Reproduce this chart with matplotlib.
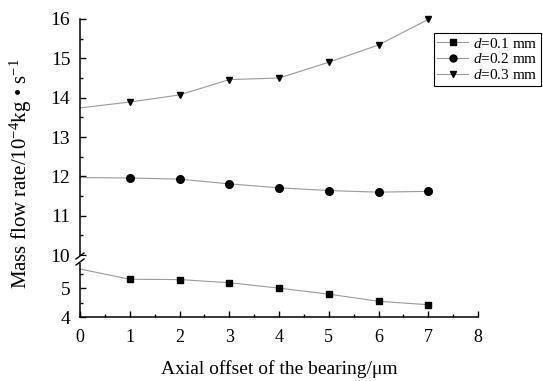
import matplotlib
matplotlib.use('Agg')
import matplotlib.pyplot as plt
from matplotlib.ticker import MultipleLocator
from matplotlib.lines import Line2D

plt.rcParams['font.family'] = ['Liberation Serif', 'DejaVu Serif']
plt.rcParams['mathtext.fontset'] = 'custom'
plt.rcParams['mathtext.rm'] = 'Liberation Serif'
plt.rcParams['mathtext.it'] = 'Liberation Serif:italic'

# ── data ──
offset = [0, 1, 2, 3, 4, 5, 6, 7]
flow_d01 = [5.68, 5.32, 5.31, 5.20, 5.01, 4.80, 4.55, 4.43]
flow_d02 = [11.97, 11.96, 11.93, 11.81, 11.71, 11.64, 11.60, 11.62]
flow_d03 = [13.74, 13.89, 14.07, 14.46, 14.50, 14.90, 15.34, 15.99]
labels = ['$d$=0.1 mm', '$d$=0.2 mm', '$d$=0.3 mm']

W, H = 543, 381
fig = plt.figure(figsize=(W / 100, H / 100), dpi=100)

def px_axes(left, right, top, bottom):
    return fig.add_axes([left / W, 1 - bottom / H, (right - left) / W, (bottom - top) / H])

ax_hi = px_axes(80, 478, 19, 261)
ax_lo = px_axes(80, 478, 261, 317)

LINE_C = '#9a9a9a'
style = dict(color=LINE_C, lw=0.8, mfc='black', mec='black', markevery=list(range(1, 8)),
             clip_on=False)
ax_lo.plot(offset, flow_d01, marker='s', ms=5, **style)
ax_hi.plot(offset, flow_d02, marker='o', ms=5.5, **style)
ax_hi.plot(offset, flow_d03, marker='v', ms=5, **style)

for ax in (ax_hi, ax_lo):
    ax.set_xlim(0, 8)
    ax.spines['top'].set_visible(False)
    ax.spines['right'].set_visible(False)
    ax.patch.set_alpha(0)
    ax.tick_params(direction='in', which='major', length=4, width=1, labelsize=14, pad=7)
    ax.tick_params(direction='in', which='minor', length=2.5, width=1)
    ax.spines['left'].set_linewidth(1.1)
    ax.spines['bottom'].set_linewidth(1.1)

ax_hi.set_ylim(9.85, 16)
ax_hi.yaxis.set_major_locator(MultipleLocator(1))
ax_hi.yaxis.set_minor_locator(MultipleLocator(0.5))
ax_hi.spines['bottom'].set_visible(False)
ax_hi.tick_params(axis='x', which='both', bottom=False, labelbottom=False)

ax_lo.set_ylim(4, 5.96)
ax_lo.set_yticks([4, 5])
ax_lo.yaxis.set_minor_locator(MultipleLocator(0.5))
ax_lo.xaxis.set_major_locator(MultipleLocator(1))
ax_lo.xaxis.set_minor_locator(MultipleLocator(0.5))
ax_lo.tick_params(axis='x', labelsize=13, pad=9)

# break mark on the y axis
fig.add_artist(plt.Rectangle((75 / W, 1 - 263 / H), 10 / W, 7 / H, fc='white', ec='none',
                             transform=fig.transFigure, zorder=5))
for yy in (256, 262):
    fig.add_artist(Line2D([76 / W, 84 / W], [1 - (yy + 3) / H, 1 - (yy - 3) / H],
                          color='black', lw=1.0, transform=fig.transFigure, zorder=6))

ax_lo.set_xlabel('Axial offset of the bearing/μm', fontsize=14, labelpad=10)
fig.text(21 / W, 1 - 174 / H, 'Mass flow rate/10$^{-4}$kg • s$^{-1}$', rotation=90,
         ha='center', va='center', fontsize=15)

handles = [Line2D([], [], marker=m, ms=5, color=LINE_C, lw=0.8, mfc='black', mec='black')
           for m in ('s', 'o', 'v')]
leg = fig.legend(handles, labels, loc='upper right', bbox_to_anchor=(541 / W, 1 - 33 / H),
                 bbox_transform=fig.transFigure, fontsize=11, frameon=True, fancybox=False,
                 framealpha=1, edgecolor='black', handlelength=2.0, handletextpad=0.3,
                 labelspacing=0.1, borderpad=0.25, borderaxespad=0)
leg.get_frame().set_linewidth(0.8)

plt.savefig('out.png', dpi=100)
